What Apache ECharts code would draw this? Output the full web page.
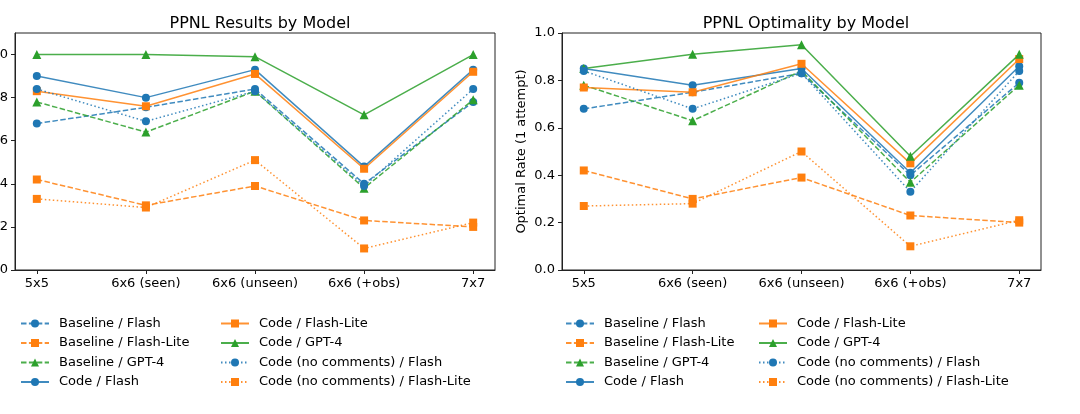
<!DOCTYPE html>
<html>
<head>
<meta charset="utf-8">
<script src="https://cdn.jsdelivr.net/npm/echarts@6/dist/echarts.min.js"></script>
<style>
  html, body { margin: 0; padding: 0; background: #fff; }
  #chart { width: 1080px; height: 414px; }
</style>
</head>
<body>
<div id="chart"></div>
<script>
// categories on the x axis
var categories = ['5x5', '6x6 (seen)', '6x6 (unseen)', '6x6 (+obs)', '7x7'];
var xTicks = [0, 1, 2, 3, 4];
var yTicks = [0, 0.2, 0.4, 0.6, 0.8, 1.0];

var seriesNames = [
	'Baseline / Flash', 'Baseline / Flash-Lite', 'Baseline / GPT-4', 'Code / Flash',
	'Code / Flash-Lite', 'Code / GPT-4', 'Code (no comments) / Flash', 'Code (no comments) / Flash-Lite'
];

// left panel: PPNL Results by Model
var resBaseFlash    = [0.68, 0.755, 0.84, 0.40, 0.78];
var resBaseLite     = [0.42, 0.30, 0.39, 0.23, 0.20];
var resBaseGpt4     = [0.78, 0.64, 0.83, 0.38, 0.79];
var resCodeFlash    = [0.90, 0.80, 0.93, 0.48, 0.93];
var resCodeLite     = [0.83, 0.76, 0.91, 0.47, 0.92];
var resCodeGpt4     = [1.00, 1.00, 0.99, 0.72, 1.00];
var resNcFlash      = [0.84, 0.69, 0.83, 0.39, 0.84];
var resNcLite       = [0.33, 0.29, 0.51, 0.10, 0.22];

// right panel: PPNL Optimality by Model
var optBaseFlash    = [0.68, 0.75, 0.83, 0.40, 0.79];
var optBaseLite     = [0.42, 0.30, 0.39, 0.23, 0.20];
var optBaseGpt4     = [0.78, 0.63, 0.84, 0.37, 0.78];
var optCodeFlash    = [0.85, 0.78, 0.85, 0.41, 0.86];
var optCodeLite     = [0.77, 0.75, 0.87, 0.45, 0.89];
var optCodeGpt4     = [0.85, 0.91, 0.95, 0.48, 0.91];
var optNcFlash      = [0.84, 0.68, 0.83, 0.33, 0.84];
var optNcLite       = [0.27, 0.28, 0.50, 0.10, 0.21];

var panels = [
	[resBaseFlash, resBaseLite, resBaseGpt4, resCodeFlash, resCodeLite, resCodeGpt4, resNcFlash, resNcLite],
	[optBaseFlash, optBaseLite, optBaseGpt4, optCodeFlash, optCodeLite, optCodeGpt4, optNcFlash, optNcLite]
];

var BLUE = '#1f77b4', ORANGE = '#ff7f0e', GREEN = '#2ca02c';
var DASHED = [5.5, 2.4], DOTTED = [1.5, 2.5];
// style per series: colour by model, line by method, marker by model
var looks = [
	{ c: BLUE,   t: DASHED,  s: 'circle' },
	{ c: ORANGE, t: DASHED,  s: 'rect' },
	{ c: GREEN,  t: DASHED,  s: 'triangle' },
	{ c: BLUE,   t: 'solid', s: 'circle' },
	{ c: ORANGE, t: 'solid', s: 'rect' },
	{ c: GREEN,  t: 'solid', s: 'triangle' },
	{ c: BLUE,   t: DOTTED,  s: 'circle' },
	{ c: ORANGE, t: DOTTED,  s: 'rect' }
];

var FONT = 'DejaVu Sans';
var AXIS_COLOR = '#222';

var series = [];
for (var p = 0; p < panels.length; p++) {
	for (var i = 0; i < seriesNames.length; i++) {
		var vals = panels[p][i];
		var lk = looks[i];
		series.push({
			name: seriesNames[i],
			type: 'line',
			xAxisIndex: p,
			yAxisIndex: p,
			data: vals.map(function(v, j) { return [j, v]; }),
			symbol: lk.s,
			symbolSize: lk.s == 'triangle' ? 9 : 8,
			lineStyle: { color: lk.c, width: 1.5, type: lk.t, opacity: 0.85 },
			itemStyle: { color: lk.c },
			emphasis: { disabled: true }
		});
	}
}

function xAxis(idx) {
	return {
		type: 'value',
		gridIndex: idx,
		min: -0.2,
		max: 4.2,
		splitLine: { show: false },
		axisLine: { show: true, onZero: false, lineStyle: { color: AXIS_COLOR, width: 1 } },
		axisTick: { show: true, length: 4, customValues: xTicks, lineStyle: { color: AXIS_COLOR } },
		axisLabel: {
			customValues: xTicks,
			margin: 7,
			color: '#000',
			fontSize: 13,
			fontFamily: FONT,
			formatter: function(v) { return categories[Math.round(v)]; }
		}
	};
}

function yAxis(idx, max, name) {
	return {
		type: 'value',
		gridIndex: idx,
		min: 0,
		max: max,
		name: name,
		nameLocation: 'middle',
		nameGap: 34,
		nameTextStyle: { color: '#000', fontSize: 13, fontFamily: FONT },
		splitLine: { show: false },
		axisLine: { show: true, onZero: false, lineStyle: { color: AXIS_COLOR, width: 1 } },
		axisTick: { show: true, length: 4, customValues: yTicks, lineStyle: { color: AXIS_COLOR } },
		axisLabel: {
			customValues: yTicks,
			margin: 7,
			color: '#000',
			fontSize: 13,
			fontFamily: FONT,
			formatter: function(v) { return v.toFixed(1); }
		}
	};
}

function legend(left, top, names) {
	return {
		orient: 'vertical',
		left: left,
		top: top,
		padding: 0,
		data: names,
		itemWidth: 28,
		itemHeight: 10,
		itemGap: 6.5,
		selectedMode: false,
		textStyle: { color: '#000', fontSize: 13, fontFamily: FONT, padding: [0, 0, 0, 5] }
	};
}

var option = {
	animation: false,
	backgroundColor: '#fff',
	title: [
		{ text: 'PPNL Results by Model', left: 255, top: 11, textAlign: 'center',
		  textStyle: { color: '#000', fontSize: 16, fontWeight: 'normal', fontFamily: FONT } },
		{ text: 'PPNL Optimality by Model', left: 801, top: 11, textAlign: 'center',
		  textStyle: { color: '#000', fontSize: 16, fontWeight: 'normal', fontFamily: FONT } }
	],
	grid: [
		{ left: 15, right: 585, top: 33, bottom: 144, outerBoundsMode: 'none',
		  show: true, borderColor: AXIS_COLOR, borderWidth: 1 },
		{ left: 562, right: 39, top: 33, bottom: 144, outerBoundsMode: 'none',
		  show: true, borderColor: AXIS_COLOR, borderWidth: 1 }
	],
	xAxis: [xAxis(0), xAxis(1)],
	yAxis: [yAxis(0, 1.1, ''), yAxis(1, 1.0, 'Optimal Rate (1 attempt)')],
	legend: [
		legend(20, 317, seriesNames.slice(0, 4)),
		legend(220, 317, seriesNames.slice(4)),
		legend(565, 317, seriesNames.slice(0, 4)),
		legend(758, 317, seriesNames.slice(4))
	],
	series: series
};

var chart = echarts.init(document.getElementById('chart'));
chart.setOption(option);
</script>
</body>
</html>
